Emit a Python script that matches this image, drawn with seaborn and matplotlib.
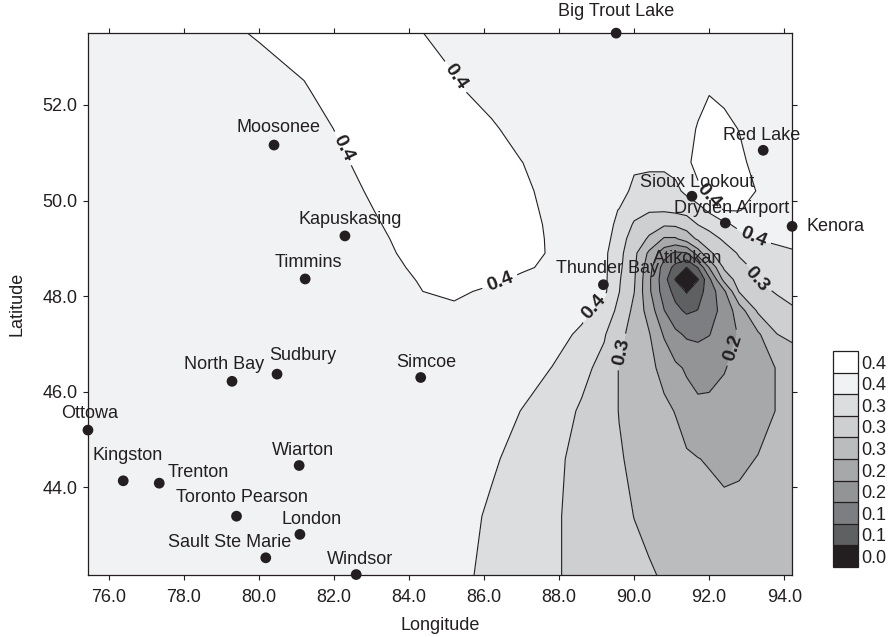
"""Mapa de contorno con estaciones (Ontario)."""

import matplotlib
matplotlib.use("Agg")
import matplotlib.pyplot as plt
import numpy as np
import pandas as pd
import seaborn as sns

# Estaciones
station_names = [
    "Big Trout Lake", "Moosonee", "Red Lake", "Sioux Lookout", "Dryden Airport",
    "Kenora", "Kapuskasing", "Timmins", "Thunder Bay", "Atikokan", "North Bay",
    "Sudbury", "Simcoe", "Ottowa", "Kingston", "Trenton", "Wiarton",
    "Toronto Pearson", "London", "Sault Ste Marie", "Windsor",
]
station_lon = [89.52, 80.40, 93.44, 91.54, 92.43, 94.21, 82.29, 81.23, 89.18, 91.41, 79.28,
               80.48, 84.31, 75.44, 76.38, 77.34, 81.07, 79.40, 81.09, 80.18, 82.59]
station_lat = [53.50, 51.16, 51.05, 50.09, 49.53, 49.46, 49.26, 48.36, 48.24, 48.33, 46.22,
               46.37, 46.30, 45.20, 44.14, 44.09, 44.46, 43.40, 43.02, 42.53, 42.18]

grid_lon = [75.4, 78.0, 80.0, 81.2, 82.2, 83.2, 84.2, 85.2, 86.2, 87.0, 87.8, 88.6, 89.2,
            89.6, 90.0, 90.4, 90.8, 91.1, 91.4, 91.7, 92.0, 92.4, 92.8, 93.3, 93.8, 94.25]
grid_lat = [42.1, 43.4, 44.6, 45.6, 46.5, 47.2, 47.7, 48.1, 48.35, 48.6, 48.9, 49.2, 49.5,
            49.8, 50.2, 50.8, 51.5, 52.3, 53.55]
grid_values = [
    [0.41, 0.41, 0.41, 0.41, 0.41, 0.41, 0.41, 0.403, 0.378, 0.364, 0.350, 0.335, 0.325,
     0.317, 0.310, 0.303, 0.298, 0.296, 0.294, 0.292, 0.290, 0.288, 0.285, 0.281, 0.278, 0.275],
    [0.41, 0.41, 0.41, 0.41, 0.41, 0.41, 0.41, 0.41, 0.383, 0.367, 0.351, 0.333, 0.319,
     0.310, 0.2995, 0.294, 0.288, 0.284, 0.279, 0.275, 0.271, 0.2645, 0.2635, 0.265, 0.267, 0.270],
    [0.41, 0.41, 0.41, 0.41, 0.41, 0.41, 0.41, 0.41, 0.396, 0.375, 0.355, 0.333, 0.315,
     0.303, 0.2935, 0.2845, 0.276, 0.269, 0.2625, 0.256, 0.2515, 0.2457, 0.2497, 0.256, 0.2607, 0.265],
    [0.41, 0.41, 0.41, 0.41, 0.41, 0.41, 0.41, 0.41, 0.41, 0.389, 0.366, 0.340, 0.315,
     0.299, 0.287, 0.275, 0.263, 0.2535, 0.228, 0.218, 0.218, 0.222, 0.232, 0.2445, 0.256, 0.262],
    [0.41, 0.41, 0.41, 0.41, 0.41, 0.41, 0.41, 0.41, 0.41, 0.41, 0.3895, 0.3566, 0.332,
     0.298, 0.282, 0.265, 0.243, 0.218, 0.205, 0.1975, 0.1995, 0.208, 0.221, 0.239, 0.2565, 0.262],
    [0.41, 0.41, 0.41, 0.41, 0.41, 0.41, 0.41, 0.41, 0.41, 0.41, 0.41, 0.381, 0.349,
     0.312, 0.283, 0.258, 0.205, 0.175, 0.1585, 0.155, 0.1635, 0.1875, 0.2135, 0.248, 0.299, 0.314],
    [0.41, 0.41, 0.41, 0.41, 0.41, 0.41, 0.41, 0.41, 0.41, 0.41, 0.41, 0.403, 0.371,
     0.334, 0.2895, 0.2365, 0.166, 0.131, 0.113, 0.121, 0.145, 0.181, 0.2325, 0.307, 0.3256, 0.342],
    [0.41, 0.41, 0.41, 0.41, 0.41, 0.41, 0.43, 0.46, 0.41, 0.41, 0.41, 0.41, 0.399,
     0.346, 0.301, 0.218, 0.143, 0.106, 0.071, 0.104, 0.137, 0.202, 0.303, 0.331, 0.349, 0.355],
    [0.41, 0.41, 0.41, 0.41, 0.41, 0.41, 0.436, 0.46, 0.46, 0.411, 0.41, 0.41, 0.40,
     0.349, 0.305, 0.2175, 0.138, 0.072, 0.04, 0.072, 0.154, 0.27, 0.32, 0.347, 0.3565, 0.365],
    [0.41, 0.41, 0.41, 0.41, 0.41, 0.41, 0.445, 0.46, 0.46, 0.454, 0.41, 0.41, 0.40,
     0.354, 0.308, 0.226, 0.145, 0.107, 0.074, 0.121, 0.211, 0.307, 0.334, 0.353, 0.3645, 0.375],
    [0.41, 0.41, 0.41, 0.41, 0.41, 0.41, 0.464, 0.46, 0.46, 0.46, 0.428, 0.41, 0.40,
     0.358, 0.312, 0.246, 0.184, 0.157, 0.162, 0.2325, 0.2925, 0.325, 0.349, 0.365, 0.376, 0.385],
    [0.41, 0.41, 0.41, 0.41, 0.41, 0.425, 0.46, 0.46, 0.46, 0.46, 0.427, 0.41, 0.41,
     0.3635, 0.326, 0.294, 0.25, 0.25, 0.2775, 0.307, 0.327, 0.3515, 0.37, 0.392, 0.40, 0.405],
    [0.41, 0.41, 0.41, 0.41, 0.41, 0.433, 0.46, 0.46, 0.46, 0.46, 0.424, 0.41, 0.41,
     0.378, 0.340, 0.318, 0.306, 0.308, 0.318, 0.346, 0.36, 0.38, 0.4035, 0.41, 0.41, 0.41],
    [0.41, 0.41, 0.41, 0.41, 0.41, 0.439, 0.46, 0.46, 0.46, 0.46, 0.4165, 0.41, 0.41,
     0.388, 0.36, 0.35, 0.35, 0.355, 0.362, 0.375, 0.3975, 0.437, 0.437, 0.42, 0.41, 0.41],
    [0.41, 0.41, 0.41, 0.41, 0.41, 0.452, 0.46, 0.46, 0.46, 0.455, 0.4065, 0.41, 0.41,
     0.416, 0.375, 0.37, 0.37, 0.38, 0.40, 0.42, 0.45, 0.46, 0.45, 0.433, 0.41, 0.41],
    [0.41, 0.41, 0.41, 0.41, 0.428, 0.46, 0.46, 0.46, 0.46, 0.436, 0.41, 0.41, 0.41,
     0.405, 0.402, 0.40, 0.40, 0.405, 0.42, 0.46, 0.46, 0.46, 0.45, 0.4125, 0.41, 0.41],
    [0.41, 0.41, 0.41, 0.41, 0.442, 0.46, 0.46, 0.46, 0.444, 0.41, 0.41, 0.41, 0.41,
     0.41, 0.41, 0.41, 0.41, 0.41, 0.41, 0.441, 0.455, 0.452, 0.433, 0.41, 0.41, 0.41],
    [0.41, 0.41, 0.41, 0.43, 0.46, 0.46, 0.46, 0.445, 0.41, 0.41, 0.41, 0.41, 0.41,
     0.41, 0.41, 0.41, 0.41, 0.41, 0.41, 0.41, 0.432, 0.42, 0.41, 0.41, 0.41, 0.41],
    [0.41, 0.41, 0.441, 0.46, 0.46, 0.46, 0.439, 0.41, 0.41, 0.41, 0.41, 0.41, 0.41,
     0.41, 0.41, 0.41, 0.41, 0.41, 0.41, 0.41, 0.41, 0.41, 0.41, 0.41, 0.41, 0.41],
]

levels = [0.03, 0.075, 0.12, 0.165, 0.21, 0.255, 0.30, 0.345, 0.39, 0.435, 0.48]
labeled_levels = [0.21, 0.30, 0.345, 0.39, 0.435]
plain_levels = [0.075, 0.12, 0.165, 0.255]
cbar_labels = ["0.0", "0.1", "0.1", "0.2", "0.2", "0.3", "0.3", "0.3", "0.4", "0.4"]
level_colors = ["#231f20", "#5f6062", "#7d7e81", "#939496", "#a7a8aa",
                "#bbbcbe", "#cecfd1", "#dcdddf", "#f1f2f3", "#ffffff"]

# Posicion de las etiquetas de contorno y desplazamiento (px) de los nombres
clabel_pos = [(82.24, 51.09), (85.17, 52.55), (86.43, 48.28), (92.05, 50.15),
              (88.99, 47.72), (93.17, 49.22), (93.23, 48.32), (89.63, 46.84),
              (92.72, 46.9)]
label_offset = {
    "Big Trout Lake": (0, 22), "Moosonee": (4, 18), "Red Lake": (-2, 15),
    "Sioux Lookout": (5, 14), "Dryden Airport": (6, 15), "Kenora": (43, 0),
    "Kapuskasing": (5, 16), "Timmins": (3, 16), "Thunder Bay": (4, 16),
    "Atikokan": (1, 22), "North Bay": (-8, 17), "Sudbury": (26, 19),
    "Simcoe": (6, 15), "Ottowa": (2, 17), "Kingston": (4, 25), "Trenton": (39, 11),
    "Wiarton": (4, 15), "Toronto Pearson": (5, 19), "London": (12, 15),
    "Sault Ste Marie": (-36, 15), "Windsor": (4, 15),
}

sns.set_style("ticks")
plt.rcParams["font.family"] = ["Liberation Sans", "DejaVu Sans"]
text_color = "#231f20"

fig = plt.figure(figsize=(8.93, 6.37), dpi=100)
ax = fig.add_axes([0.0985, 0.0973, 0.7885, 0.8507])

Z = np.array(grid_values)
cf = ax.contourf(grid_lon, grid_lat, Z, levels=levels, colors=level_colors)
ax.contour(grid_lon, grid_lat, Z, levels=plain_levels, colors=text_color, linewidths=0.8)
cs = ax.contour(grid_lon, grid_lat, Z, levels=labeled_levels, colors=text_color,
                linewidths=0.8)
texts = ax.clabel(cs, manual=clabel_pos, inline=True, fmt="%.1f", fontsize=14,
                  colors=text_color)
for t in texts:
    t.set_fontweight("bold")

df = pd.DataFrame({"name": station_names, "lon": station_lon, "lat": station_lat})
sns.scatterplot(data=df, x="lon", y="lat", color=text_color, s=60, edgecolor="none",
                ax=ax, clip_on=False, zorder=5, legend=False)
for name, lon, lat in zip(station_names, station_lon, station_lat):
    dx, dy = label_offset[name]
    ax.annotate(name, (lon, lat), xytext=(dx, dy), textcoords="offset pixels",
                ha="center", va="center", fontsize=13, color=text_color,
                annotation_clip=False, zorder=6)

ax.set_xlim(75.44, 94.21)
ax.set_ylim(42.17, 53.50)
ax.set_xticks(np.arange(76, 95, 2))
ax.set_yticks(np.arange(44, 53, 2))
ax.xaxis.set_major_formatter(matplotlib.ticker.FormatStrFormatter("%.1f"))
ax.yaxis.set_major_formatter(matplotlib.ticker.FormatStrFormatter("%.1f"))
ax.tick_params(top=True, right=True, direction="out", length=3.5, width=0.8,
               labelsize=13, colors=text_color)
ax.tick_params(axis="x", pad=6.5)
ax.tick_params(axis="y", pad=4)
for sp in ax.spines.values():
    sp.set_visible(True)
    sp.set_color(text_color)
    sp.set_linewidth(0.9)
ax.set_xlabel("Longitude", fontsize=13, color=text_color, labelpad=8)
ax.set_ylabel("Latitude", fontsize=13, color=text_color, labelpad=12)

cax = fig.add_axes([0.9328, 0.110, 0.028, 0.339])
cbar = fig.colorbar(cf, cax=cax, drawedges=True)
cbar.set_ticks(levels[:-1])
cbar.set_ticklabels(cbar_labels)
cbar.ax.tick_params(length=0, labelsize=13, pad=2, colors=text_color)
for lab in cbar.ax.get_yticklabels():
    lab.set_verticalalignment("bottom")
cbar.outline.set_edgecolor(text_color)
cbar.outline.set_linewidth(0.9)
cbar.dividers.set_color(text_color)
cbar.dividers.set_linewidth(0.9)

plt.savefig("out.png", dpi=100)
plt.close()
